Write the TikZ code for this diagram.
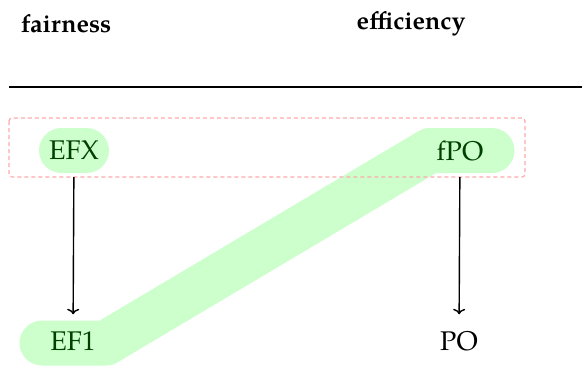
\documentclass[tikz,border=0pt]{standalone}
\usepackage{fontspec}
\setmainfont{TeX Gyre Pagella}
\usetikzlibrary{arrows.meta}
\definecolor{bandgreen}{RGB}{204,255,204}
\definecolor{txtgreen}{RGB}{0,64,0}
\definecolor{boxpink}{RGB}{255,170,170}
\tikzset{
  hdr/.style={font=\fontsize{25}{30}\selectfont\bfseries, inner sep=0pt},
  lbl/.style={font=\fontsize{27}{32}\selectfont, inner sep=0pt, minimum height=45pt},
  pill/.style={lbl, fill=bandgreen, rounded corners=22.5pt, minimum width=70pt, text=txtgreen},
  band/.style={draw=bandgreen, line width=45pt, line cap=round, line join=round},
  group/.style={draw=boxpink, line width=1.2pt, dash pattern=on 4pt off 3pt, rounded corners=3pt},
  implies/.style={-{To[length=5.5pt,width=12pt]}, line width=1.4pt, shorten <=4pt, shorten >=4pt}
}
\begin{document}
\begin{tikzpicture}[x=1pt,y=-1pt]
\useasboundingbox (0,0) rectangle (582,365);
\node[hdr] (fair) at (66,23.5) {fairness};
\node[hdr] (eff) at (411,23.5) {efficiency};
\coordinate (rl) at (9,87);
\coordinate (rr) at (582,87);
\draw[line width=1.4pt] (rl) -- (rr);
\coordinate (b1) at (42,343);
\coordinate (b2) at (106,343);
\coordinate (b3) at (430,150.5);
\coordinate (b4) at (492,150.5);
\draw[band] (b1) -- (b2) -- (b3) -- (b4);
\node[pill] (efx) at (74,150.5) {EFX};
\node[lbl, text=txtgreen] (fpo) at (460,150.5) {fPO};
\node[lbl, text=txtgreen] (ef1) at (73,341) {EF1};
\node[lbl] (po) at (459,341) {PO};
\coordinate (g1) at (9,118);
\coordinate (g2) at (525,177);
\draw[group] (g1) rectangle (g2);
\draw[implies] (efx) -- (ef1);
\draw[implies] (fpo) -- (po);
\end{tikzpicture}
\end{document}
